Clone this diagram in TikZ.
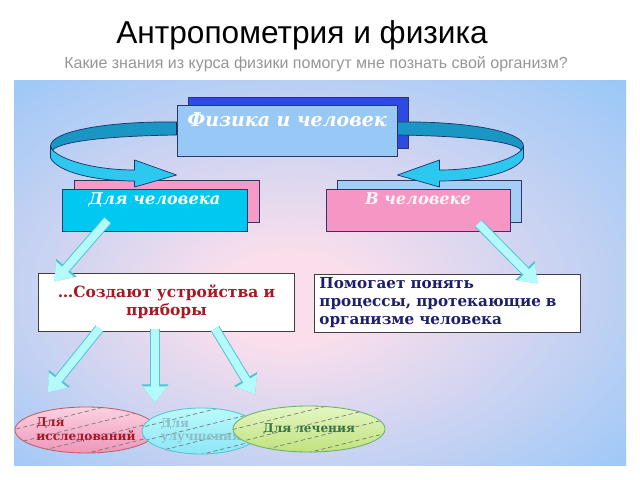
\documentclass[tikz,border=0pt]{standalone}
\usepackage{fontspec}
\setmainfont{DejaVu Serif}
\newfontfamily\headfont{Liberation Sans}
\usetikzlibrary{arrows.meta,shapes.geometric}
\definecolor{skyblue}{RGB}{155,200,248}
\definecolor{blush}{RGB}{250,222,236}
\definecolor{slateblue}{RGB}{152,200,245}
\definecolor{royal}{RGB}{45,75,225}
\definecolor{boxedge}{RGB}{45,55,95}
\definecolor{cyanbox}{RGB}{0,200,240}
\definecolor{pinkbox}{RGB}{245,150,196}
\definecolor{pinkback}{RGB}{245,155,200}
\definecolor{paleblue}{RGB}{165,205,245}
\definecolor{arcdark}{RGB}{25,150,195}
\definecolor{arclight}{RGB}{45,200,240}
\definecolor{arcedge}{RGB}{25,50,100}
\definecolor{arrowfill}{RGB}{180,250,250}
\definecolor{arrowedge}{RGB}{85,195,210}
\definecolor{deepred}{RGB}{165,25,35}
\definecolor{inknavy}{RGB}{30,30,110}
\definecolor{leafgreen}{RGB}{55,115,70}
\definecolor{subgray}{RGB}{150,150,150}
\definecolor{limetop}{RGB}{228,246,195}
\definecolor{limebottom}{RGB}{192,226,125}
\definecolor{rosetop}{RGB}{252,210,225}
\definecolor{rosebottom}{RGB}{238,150,185}
\pgfdeclareradialshading{panelglow}{\pgfpoint{-3bp}{-4bp}}{%
  color(0bp)=(blush); color(6bp)=(blush); color(36bp)=(skyblue); color(50bp)=(skyblue)}

\begin{document}
\begin{tikzpicture}[
        x=0.025cm, y=-0.025cm,
        frontbox/.style={draw=boxedge, line width=0.6pt, inner sep=0pt, text=white},
        backbox/.style={draw=boxedge, line width=0.6pt, inner sep=0pt},
        notebox/.style={draw=black!75, fill=white, line width=0.7pt, minimum height=1.45cm, inner ysep=2pt},
        blob/.style={ellipse, line width=0.6pt, inner sep=0pt, minimum height=1.15cm, align=left,
            font=\fontsize{8.6pt}{9.6pt}\selectfont\bfseries,
            path picture={\foreach \k in {-18,-4,10,24}
                \draw[hatch] ([shift={(-90,\k+22)}]path picture bounding box.center) -- ++(180,-45);}},
        hatch/.style={densely dashed, line width=0.5pt, black!55},
        arcshape/.style={draw=arcedge, line width=0.5pt, line join=round},
        lightarrow/.style={draw=arrowfill, line width=5.6pt, -{Triangle[length=11.5pt,width=16.5pt]},
            preaction={draw=arrowedge, line width=7pt, -{Triangle[length=13pt,width=18.5pt]}}}
    ]

    % page and panel
    \useasboundingbox (0,0) rectangle (640,480);
    \fill[white] (0,0) rectangle (640,480);
    \shade[shading=panelglow] (14,80) rectangle (626,465);

    % heading
    \node[anchor=base, font=\headfont\fontsize{22.5pt}{26pt}\selectfont] (title) at (302,43) {Антропометрия и физика};
    \node[anchor=base, text=subgray, font=\headfont\fontsize{11.4pt}{13pt}\selectfont] (question) at (316,68)
        {Какие знания из курса физики помогут мне познать свой организм?};

    % upper boxes
    \node[backbox, fill=royal, minimum width=5.5cm, minimum height=1.275cm] (physback) at (298,122.5) {};
    \node[frontbox, fill=slateblue, minimum width=5.5cm, text height=0.55cm, text depth=0.725cm,
        font=\fontsize{13.5pt}{16pt}\selectfont\bfseries\itshape] (phys) at (287,130.5) {Физика и человек};
    \node[backbox, fill=pinkback, minimum width=4.625cm, minimum height=1.05cm] (formanback) at (166.5,201.5) {};
    \node[frontbox, fill=cyanbox, minimum width=4.625cm, text height=0.4cm, text depth=0.65cm,
        font=\fontsize{11.5pt}{14pt}\selectfont\bfseries\itshape] (forman) at (154.5,210) {Для человека};
    \node[backbox, fill=paleblue, minimum width=4.6cm, minimum height=1.05cm] (inmanback) at (429.5,201.5) {};
    \node[frontbox, fill=pinkbox, minimum width=4.6cm, text height=0.4cm, text depth=0.65cm, text=white!85!pink,
        font=\fontsize{11.5pt}{14pt}\selectfont\bfseries\itshape] (inman) at (418,210) {В человеке};

    % curved arrows
    \begin{scope}[shift={(phys.west)}]
        \filldraw[arcshape, fill=arclight] (-126,15.5) -- (-126,27.5) .. controls (-119,41.5) and (-82,50.5) .. (-42,50.5)
            -- (-42,56.5) -- (0,44.5) -- (-42,29.5) -- (-42,39.5) .. controls (-82,39.5) and (-115,29.5) .. (-124,19.5) -- cycle;
        \filldraw[arcshape, fill=arcdark] (0,-8.5) .. controls (-67,-9.5) and (-126,0.5) .. (-126,15.5)
            -- (-124,19.5) .. controls (-115,10.5) and (-67,5.5) .. (0,4.5) -- cycle;
    \end{scope}
    \begin{scope}[shift={(phys.east)}, xscale=-1]
        \filldraw[arcshape, fill=arclight] (-126,15.5) -- (-126,27.5) .. controls (-119,41.5) and (-82,50.5) .. (-42,50.5)
            -- (-42,56.5) -- (0,44.5) -- (-42,29.5) -- (-42,39.5) .. controls (-82,39.5) and (-115,29.5) .. (-124,19.5) -- cycle;
        \filldraw[arcshape, fill=arcdark] (0,-8.5) .. controls (-67,-9.5) and (-126,0.5) .. (-126,15.5)
            -- (-124,19.5) .. controls (-115,10.5) and (-67,5.5) .. (0,4.5) -- cycle;
    \end{scope}

    % lower boxes
    \node[notebox, minimum width=6.375cm, align=center, text=deepred,
        font=\fontsize{11pt}{13pt}\selectfont\bfseries] (devices) at (166.5,302) {…Создают устройства и\\приборы};
    \node[notebox, minimum width=6.625cm, text width=6.4cm, align=left, text=inknavy,
        font=\fontsize{10.8pt}{12.8pt}\selectfont\bfseries] (processes) at (447.5,303)
        {Помогает понять\\процессы, протекающие в\\организме человека};

    % ellipses
    \node[blob, draw=deepred!70, top color=rosetop, bottom color=rosebottom, minimum width=3.55cm, text=deepred]
        (research) at (86,430) {Для\\исследований};
    \node[blob, draw=arrowedge, top color=arrowfill!90!white, bottom color=cyanbox!45, minimum width=2.95cm, text=black!25!arrowedge!60]
        (improve) at (201,431) {Для\\улучшения};
    \node[blob, draw=green!50!black!60, top color=limetop, bottom color=limebottom, minimum width=3.8cm, text=leafgreen]
        (treat) at (309,429) {Для лечения};

    % straight arrows
    \draw[lightarrow] ([shift={(46,-11)}]forman.south west) -- ([shift={(16,9)}]devices.north west);
    \draw[lightarrow] ([shift={(-32,-8)}]inman.south east) -- ([shift={(-43,10)}]processes.north east);
    \draw[lightarrow] ([shift={(61,-3)}]devices.south west) -- ([shift={(-38,-14)}]research.north);
    \draw[lightarrow] ([shift={(-11.5,-3)}]devices.south) -- ([shift={(-46,-5)}]improve.north);
    \draw[lightarrow] ([shift={(48.5,-3)}]devices.south) -- ([shift={(-54,-11)}]treat.north);
\end{tikzpicture}
\end{document}
